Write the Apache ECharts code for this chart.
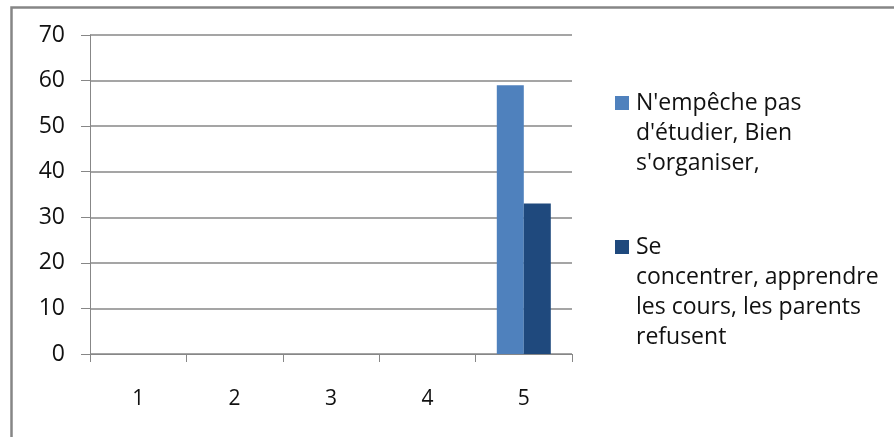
<!DOCTYPE html>
<html>
<head>
<meta charset="utf-8">
<script src="https://cdn.jsdelivr.net/npm/echarts@6/dist/echarts.min.js"></script>
<style>
  html, body { margin: 0; padding: 0; background: #fff; }
  #chart { width: 894px; height: 437px; }
</style>
</head>
<body>
<div id="chart"></div>
<script>
// Categories and values
const categories = ['1', '2', '3', '4', '5'];
const seriesNames = [
  "N'empêche pas d'étudier, Bien s'organiser,",
  "Se concentrer, apprendre les cours, les parents refusent"
];
const legendLines = [
  ["N'empêche pas", "d'étudier, Bien", "s'organiser,"],
  ["Se", "concentrer, apprendre", "les cours, les parents", "refusent"]
];
const valuesA = [null, null, null, null, 59];
const valuesB = [null, null, null, null, 33];
const colors = ['#4f81bd', '#1f497d'];

const FONT = '"Open Sans"';
const chart = echarts.init(document.getElementById('chart'), null, { renderer: 'canvas' });

// Legend drawn as text blocks with the swatch beside the first line
const legendGraphics = [];
const swatchTop = [96, 240];
legendLines.forEach((lines, i) => {
  legendGraphics.push({
    type: 'rect',
    left: 615, top: swatchTop[i],
    shape: { width: 14, height: 14 },
    style: { fill: colors[i] }
  });
  legendGraphics.push({
    type: 'text',
    left: 636, top: swatchTop[i] - 8,
    style: {
      text: lines.join('\n'),
      font: '23px ' + FONT,
      lineHeight: 30,
      fill: '#111'
    }
  });
});

chart.setOption({
  animation: false,
  backgroundColor: '#fff',
  color: colors,
  graphic: [
    {
      type: 'rect',
      left: 9, top: 5,
      shape: { width: 900, height: 450 },
      style: { fill: 'none', stroke: '#868686', lineWidth: 2.5 }
    },
    ...legendGraphics
  ],
  grid: { left: 90, right: 322, top: 35, bottom: 83 },
  xAxis: {
    type: 'category',
    data: categories,
    axisLine: { lineStyle: { color: '#878787', width: 1 } },
    axisTick: { show: true, length: 8, alignWithLabel: false, lineStyle: { color: '#878787' } },
    axisLabel: { margin: 35, color: '#111', fontFamily: FONT, fontSize: 21 }
  },
  yAxis: {
    type: 'value',
    min: 0, max: 70, interval: 10,
    axisLine: { show: true, lineStyle: { color: '#878787', width: 1 } },
    axisTick: { show: true, length: 9, lineStyle: { color: '#878787' } },
    axisLabel: { margin: 25, color: '#111', fontFamily: FONT, fontSize: 23 },
    splitLine: { lineStyle: { color: '#878787', width: 1.5 } }
  },
  series: [
    {
      name: seriesNames[0], type: 'bar', data: valuesA,
      barWidth: 27, barGap: '0%'
    },
    {
      name: seriesNames[1], type: 'bar', data: valuesB,
      barWidth: 27, barGap: '0%'
    }
  ]
});
</script>
</body>
</html>
